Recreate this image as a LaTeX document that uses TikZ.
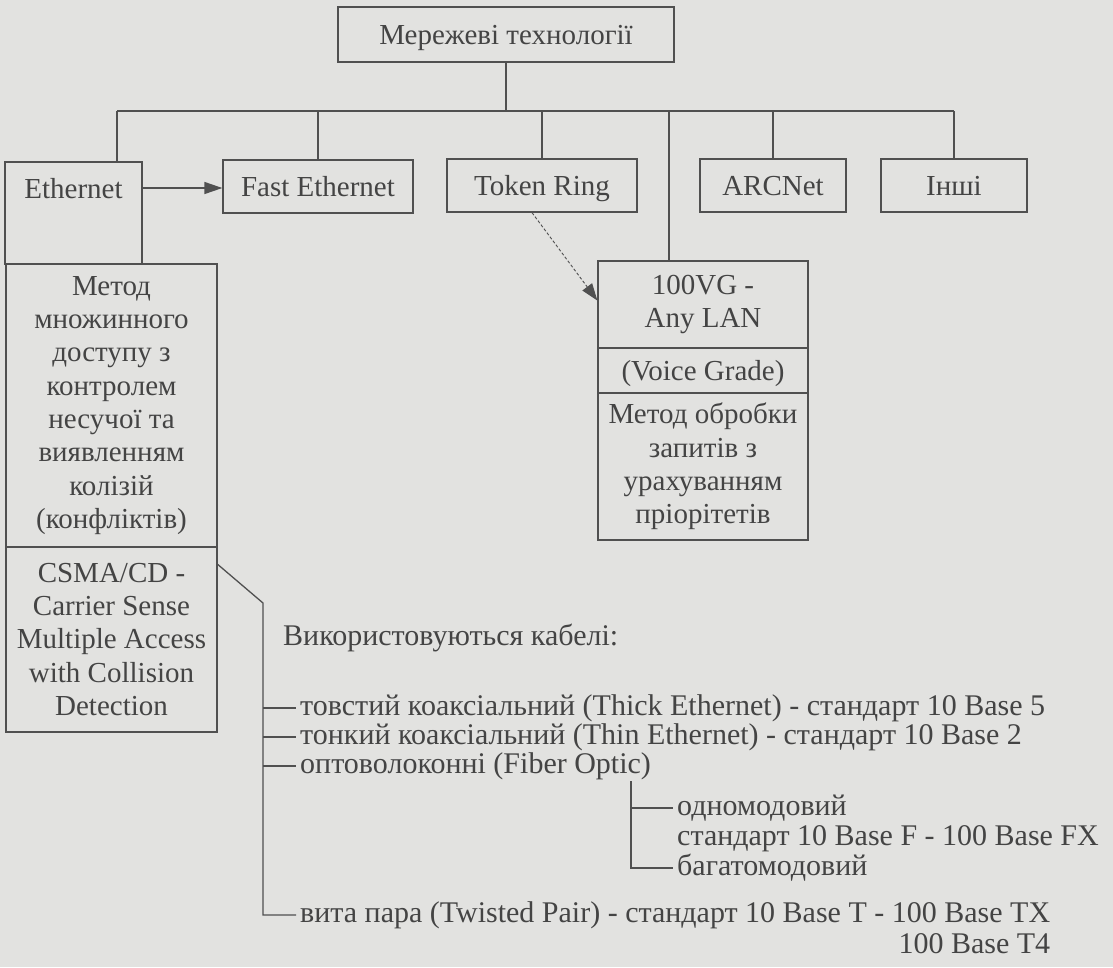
\documentclass[tikz,border=0pt]{standalone}
\usepackage{fontspec}
\setmainfont{Liberation Serif}
\usetikzlibrary{arrows.meta,calc}
\definecolor{paper}{HTML}{E2E2E0}
\definecolor{ink}{HTML}{505050}
\definecolor{txt}{HTML}{444444}

\begin{document}
\begin{tikzpicture}[x=1pt,y=-1pt,
  line/.style={draw=ink, line width=1.3pt},
  box/.style={line, text=txt, inner sep=0pt, align=center,
    font=\fontsize{29}{33.3}\selectfont},
  oneline/.style={text height=20pt, text depth=0pt},
  item/.style={anchor=west, inner xsep=4pt, inner ysep=0pt, text=txt,
    text height=20pt, text depth=6pt, font=\fontsize{30}{30}\selectfont},
  solidarrow/.style={line, -{Triangle[length=18pt,width=12pt,fill=ink]}},
  dottedarrow/.style={draw=ink, line width=0.9pt, dash pattern=on 3pt off 2pt,
    -{Triangle[length=17pt,width=12pt,fill=ink,line width=0.9pt,sep=0pt]}}
]
\useasboundingbox (0,0) rectangle (1113,967);
\fill[paper] (0,0) rectangle (1113,967);

% top level
\node[box, oneline, minimum width=336pt, minimum height=55pt] (root) at (506,34.5) {Мережеві технології};

% technologies
\node[box, minimum width=137pt, minimum height=102pt] (eth) at (73.5,213) {};
\node[text=txt, inner sep=0pt, oneline, font=\fontsize{29}{33.3}\selectfont] (ethtxt) at (73.5,188) {Ethernet};
\node[box, oneline, minimum width=190pt, minimum height=53pt] (fe) at (318,186.5) {Fast Ethernet};
\node[box, oneline, minimum width=190pt, minimum height=53pt] (tr) at (542,185.5) {Token Ring};
\node[box, oneline, minimum width=146pt, minimum height=53pt] (arc) at (773,185.5) {ARCNet};
\node[box, oneline, minimum width=146pt, minimum height=53pt] (inshi) at (954,185.5) {Інші};

% Ethernet details
\node[box, minimum width=211pt, minimum height=283pt] (method) at (111.5,405.5)
  {Метод\\множинного\\доступу з\\контролем\\несучої та\\виявленням\\колізій\\(конфліктів)};
\node[box, minimum width=211pt, minimum height=185pt] (csma) at (111.5,639.5)
  {CSMA/CD -\\Carrier Sense\\Multiple Access\\with Collision\\Detection};

% 100VG-AnyLAN
\node[box, minimum width=210pt, minimum height=87pt] (vgtop) at (703,304.5) {100VG -\\Any LAN};
\node[box, oneline, minimum width=210pt, minimum height=45pt] (vgmid) at (703,370.5) {(Voice Grade)};
\node[box, minimum width=210pt, minimum height=147pt] (vgbot) at (703,466.5)
  {Метод обробки\\запитів з\\урахуванням\\пріорітетів};

% tree connectors
\coordinate (busL) at (117,111);
\coordinate (busR) at (inshi.north |- busL);
\coordinate (vgjoin) at (669,111);
\draw[line] (root.south) -- (root.south |- busL);
\draw[line] (busL) -- (busR);
\draw[line] (busL) -- (busL |- eth.north);
\draw[line] (fe.north |- busL) -- (fe.north);
\draw[line] (tr.north |- busL) -- (tr.north);
\draw[line] (vgjoin) -- (vgjoin |- vgtop.north);
\draw[line] (arc.north |- busL) -- (arc.north);
\draw[line] (busR) -- (inshi.north);

\draw[solidarrow] (ethtxt -| eth.east) -- (ethtxt -| fe.west);
\draw[dottedarrow] ($(tr.south)+(-10,0)$) -- ($(vgtop.west)+(0,-4)$);

% cable list
\node[item, inner xsep=0pt] (head) at (283,638) {Використовуються кабелі:};
\node[item] (l1) at (296,708) {товстий коаксіальний (Thick Ethernet) - стандарт 10 Base 5};
\node[item] (l2) at (296,737) {тонкий коаксіальний (Thin Ethernet) - стандарт 10 Base 2};
\node[item] (l3) at (296,766) {оптоволоконні (Fiber Optic)};
\node[item] (s1) at (673,808) {одномодовий};
\node[item] (s2) at (673,838) {стандарт 10 Base F - 100 Base FX};
\node[item] (s3) at (673,868) {багатомодовий};
\node[item] (l4) at (296,915) {вита пара (Twisted Pair) - стандарт 10 Base T - 100 Base TX};
\node[item, anchor=east] (l5) at (l4.east |- 0,946) {100 Base T4};

\coordinate (bend) at (263,603);
\draw[line] ($(csma.north east)+(0,18)$) -- (bend) -- (bend |- l4.west) -- (l4.west);
\foreach \n in {l1,l2,l3} \draw[line] (bend |- \n.west) -- (\n.west);

\coordinate (fo) at (631,781);
\draw[line] (fo) -- (fo |- s3.west) -- (s3.west);
\draw[line] (fo |- s1.west) -- (s1.west);
\end{tikzpicture}
\end{document}
